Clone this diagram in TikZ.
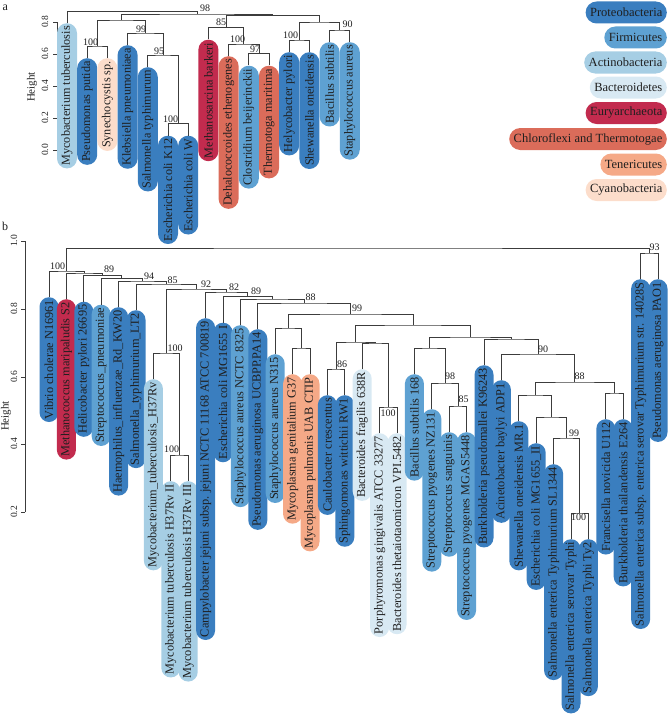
\documentclass[tikz,border=0pt]{standalone}
\usepackage{fontspec}
\setmainfont{Liberation Serif}
\definecolor{proteo}{HTML}{3A7EBF}
\definecolor{firmi}{HTML}{5EA1D2}
\definecolor{actino}{HTML}{A6CEE4}
\definecolor{bactero}{HTML}{D8E9F3}
\definecolor{eury}{HTML}{C22B4E}
\definecolor{chloro}{HTML}{DB6C5A}
\definecolor{teneri}{HTML}{F5A987}
\definecolor{cyano}{HTML}{FCDDCB}
\definecolor{txt}{HTML}{1F1F1F}
\definecolor{ln}{HTML}{3C3C3C}
\newcommand\lfa[5]{\node[leafa, fill=#4] (#1) at (#2,#3) {#5};}
\newcommand\lfb[5]{\node[leafb, fill=#4] (#1) at (#2,#3) {#5};}
\newcommand\mrg[3]{\draw[tree] (#1) |- (#2) -| (#3);}
\begin{document}
\begin{tikzpicture}[x=1pt,y=-1pt,
  tree/.style={draw=ln, line width=0.7pt},
  leafa/.style={rounded corners=10pt, minimum height=20pt, inner xsep=3pt, inner ysep=0pt, rotate=90, anchor=east, font=\fontsize{12.2}{14}\selectfont, text=txt},
  leafb/.style={rounded corners=9.5pt, minimum height=19pt, inner xsep=3pt, inner ysep=0pt, rotate=90, anchor=east, font=\fontsize{12.3}{14}\selectfont, text=txt},
  legpill/.style={rounded corners=11pt, minimum height=22pt, inner xsep=4.5pt, inner ysep=0pt, anchor=east, font=\fontsize{12.5}{14}\selectfont, text=txt},
  bs/.style={font=\fontsize{10}{12}\selectfont, inner sep=0pt, text=txt},
  tk/.style={font=\fontsize{9.5}{11}\selectfont, rotate=90, inner sep=0pt, text=txt},
  ylab/.style={font=\fontsize{11}{13}\selectfont, rotate=90, inner sep=0pt, text=txt},
  panel/.style={font=\fontsize{12}{14}\selectfont, inner sep=0pt, text=txt}]
\useasboundingbox (0,0) rectangle (668,717);

% ---------------- panel a ----------------
\node[panel] (pa) at (5.3,8) {a};
\draw[tree] (57,150) -- (57,22);
\foreach \yy/\lab in {150/0.0,118/0.2,86/0.4,54/0.6,22/0.8}{
  \draw[tree] (57,\yy) -- (53,\yy);
  \node[tk] at (45,\yy) {\lab};
}
\node[ylab] (hta) at (32,87) {Height};

\lfa{a1}{67}{23}{actino}{Mycobacterium tuberculosis}
\lfa{a2}{87.2}{58}{proteo}{Pseudomonas putida}
\lfa{a3}{107.4}{58}{cyano}{Synechocystis sp.}
\lfa{a4}{127.6}{45}{proteo}{Klebsiella pneumoniaea}
\lfa{a5}{147.8}{67}{proteo}{Salmonella typhimurum}
\lfa{a6}{168}{135.5}{proteo}{Escherichia coli K12}
\lfa{a7}{188.2}{135.5}{proteo}{Escherichia coli W}
\lfa{a8}{208.4}{39.5}{eury}{Methanosarcina barkeri}
\lfa{a9}{228.6}{56}{chloro}{Dehalococcoides ethenogenes}
\lfa{a10}{248.8}{65.5}{firmi}{Clostridium beijerinckii}
\lfa{a11}{269}{65.5}{chloro}{Thermotoga maritima}
\lfa{a12}{289.2}{52}{proteo}{Helycobacter pylori}
\lfa{a13}{309.4}{52}{proteo}{Shewanella oneidensis}
\lfa{a14}{329.6}{42}{firmi}{Bacillus subtilis}
\lfa{a15}{349.8}{42}{firmi}{Staphylococcus aureus}

\coordinate (A67) at (178.1,123.5);
\coordinate (A5) at (163,55);
\coordinate (A4) at (145.3,33);
\coordinate (A23) at (97.3,46);
\coordinate (AL) at (121.3,20);
\coordinate (A1011) at (258.9,53.5);
\coordinate (A9) at (243.8,44);
\coordinate (A8) at (226.1,27.5);
\coordinate (A1213) at (299.3,40);
\coordinate (A1415) at (339.7,30);
\coordinate (AR) at (319.5,22);
\coordinate (AX) at (272.8,15.6);
\coordinate (AY) at (197,14);
\coordinate (AT) at (132,11.5);

\mrg{a6.east}{A67}{a7.east}
\mrg{a5.east}{A5}{A67}
\mrg{a4.east}{A4}{A5}
\mrg{a2.east}{A23}{a3.east}
\mrg{A23}{AL}{A4}
\mrg{a10.east}{A1011}{a11.east}
\mrg{a9.east}{A9}{A1011}
\mrg{a8.east}{A8}{A9}
\mrg{a12.east}{A1213}{a13.east}
\mrg{a14.east}{A1415}{a15.east}
\mrg{A1213}{AR}{A1415}
\mrg{A8}{AX}{AR}
\mrg{AL}{AY}{AX}
\mrg{a1.east}{AT}{AY}

\node[bs] at (205,8.5) {98};
\node[bs] at (90.5,42) {100};
\node[bs] at (141,29) {99};
\node[bs] at (159,51) {95};
\node[bs] at (170.5,119.5) {100};
\node[bs] at (221,22.5) {85};
\node[bs] at (237.5,39) {100};
\node[bs] at (255,49) {97};
\node[bs] at (290.5,35) {100};
\node[bs] at (347.5,24.5) {90};

% ---------------- legend ----------------
\node[legpill, fill=proteo] (g1) at (667,12.5) {Proteobacteria};
\node[legpill, fill=firmi] (g2) at (667,37.5) {Firmicutes};
\node[legpill, fill=actino] (g3) at (667,62.5) {Actinobacteria};
\node[legpill, fill=bactero] (g4) at (667,87.5) {Bacteroidetes};
\node[legpill, fill=eury] (g5) at (667,113) {Euryarchaeota};
\node[legpill, fill=chloro] (g6) at (667,139) {Chloroflexi and Thermotogae};
\node[legpill, fill=teneri] (g7) at (667,164.5) {Tenericutes};
\node[legpill, fill=cyano] (g8) at (667,190) {Cyanobacteria};

% ---------------- panel b ----------------
\node[panel] (pb) at (5,226) {b};
\draw[tree] (25,512) -- (25,241);
\foreach \yy/\lab in {512/0.2,444/0.4,377/0.6,309/0.8,241/1.0}{
  \draw[tree] (25,\yy) -- (21,\yy);
  \node[tk] at (14,\yy) {\lab};
}
\node[ylab] (htb) at (6,416) {Height};

\lfb{b1}{49}{297}{proteo}{Vibrio cholerae N16961}
\lfb{b2}{66.4}{299}{eury}{Methanococcus maripaludis S2}
\lfb{b3}{83.8}{301.5}{proteo}{Helicobacter pylori 26695}
\lfb{b4}{101.2}{304.5}{firmi}{Streptococcus\_pneumoniae}
\lfb{b5}{118.6}{307}{proteo}{Haemophilus\_influenzae\_Rd\_KW20}
\lfb{b6}{136}{310}{proteo}{Salmonella\_typhimurium\_LT2}
\lfb{b7}{153.4}{379}{actino}{Mycobacterium\_tuberculosis\_H37Rv}
\lfb{b8}{170.8}{481}{actino}{Mycobacterium tuberculosis H37Rv II}
\lfb{b9}{188.2}{481}{actino}{Mycobacterium tuberculosis H37Rv III}
\lfb{b10}{205.6}{318}{proteo}{Campylobacter jejuni subsp. jejuni NCTC 11168 ATCC 700819}
\lfb{b11}{223}{322.5}{proteo}{Escherichia coli MG1655 I}
\lfb{b12}{240.4}{325}{firmi}{Staphylococcus aureus NCTC 8325}
\lfb{b13}{257.8}{329}{proteo}{Pseudomonas aeruginosa UCBPP.PA14}
\lfb{b14}{275.2}{354}{firmi}{Staphylococcus aureus N315}
\lfb{b15}{292.6}{374}{teneri}{Mycoplasma genitalium G37}
\lfb{b16}{310}{374}{teneri}{Mycoplasma pulmonis UAB CTIP}
\lfb{b17}{327.4}{395}{proteo}{Caulobacter crescentus}
\lfb{b18}{344.8}{395}{proteo}{Sphingomonas wittichii RW1}
\lfb{b19}{362.2}{369}{bactero}{Bacteroides fragilis 638R}
\lfb{b20}{379.6}{433}{bactero}{Porphyromonas gingivalis ATCC 33277}
\lfb{b21}{397}{433}{bactero}{Bacteroides thetaiotaomicron VPI.5482}
\lfb{b22}{414.4}{374}{firmi}{Bacillus subtilis 168}
\lfb{b23}{431.8}{409}{firmi}{Streptococcus pyogenes NZ131}
\lfb{b24}{449.2}{432}{firmi}{Streptococcus sanguinis}
\lfb{b25}{466.6}{432}{firmi}{Streptococcus pyogenes MGAS5448}
\lfb{b26}{484}{365}{proteo}{Burkholderia pseudomallei K96243}
\lfb{b27}{501.4}{380}{proteo}{Acinetobacter baylyi ADP1}
\lfb{b28}{518.8}{421}{proteo}{Shewanella oneidensis MR.1}
\lfb{b29}{536.2}{443}{proteo}{Escherichia coli MG1655\_II}
\lfb{b30}{553.6}{464}{proteo}{Salmonella enterica Typhimurium SL1344}
\lfb{b31}{571}{539}{proteo}{Salmonella enterica serovar Typhi}
\lfb{b32}{588.4}{539}{proteo}{Salmonella enterica Typhi Ty2}
\lfb{b33}{605.8}{419}{proteo}{Francisella novicida U112}
\lfb{b34}{623.2}{419}{proteo}{Burkholderia thailandensis E264}
\lfb{b35}{640.6}{279}{proteo}{Salmonella enterica subsp. enterica serovar Typhimurium str. 14028S}
\lfb{b36}{658}{279}{proteo}{Pseudomonas aeruginosa PAO1}

\coordinate (BL) at (66.8,271);
\coordinate (BA) at (84.6,273);
\coordinate (BB3) at (102.8,275.5);
\coordinate (BB4) at (121.8,278.5);
\coordinate (BC) at (142.4,281);
\coordinate (BD) at (166.3,284);
\coordinate (BE) at (196.6,289);
\coordinate (BF) at (226.6,292);
\coordinate (BG) at (247.6,296.5);
\coordinate (BH) at (272.3,299);
\coordinate (BI) at (304.2,303);
\coordinate (BJ) at (350.6,314);
\coordinate (B14) at (288.3,328);
\coordinate (B1516) at (301.3,348);
\coordinate (BQ) at (413,325);
\coordinate (BB) at (355.7,342);
\coordinate (B1718) at (336.1,369);
\coordinate (B19) at (375.3,343);
\coordinate (B2021) at (388.3,407);
\coordinate (BRR) at (470.3,337);
\coordinate (B22) at (429.6,348);
\coordinate (B23) at (444.9,383);
\coordinate (B2425) at (457.9,406);
\coordinate (B26) at (511,339);
\coordinate (B27) at (538.1,354);
\coordinate (BX) at (574.8,382);
\coordinate (BW) at (535.1,395);
\coordinate (BY) at (551.4,417);
\coordinate (BZ) at (566.7,438);
\coordinate (B3132) at (579.7,513);
\coordinate (B3334) at (614.5,393);
\coordinate (B7) at (166.5,353);
\coordinate (B89) at (179.5,455);
\coordinate (B3536) at (649.3,253);
\coordinate (BT) at (358,248);

\mrg{b8.east}{B89}{b9.east}
\mrg{b7.east}{B7}{B89}
\mrg{b15.east}{B1516}{b16.east}
\mrg{b14.east}{B14}{B1516}
\mrg{b17.east}{B1718}{b18.east}
\mrg{b20.east}{B2021}{b21.east}
\mrg{b19.east}{B19}{B2021}
\mrg{B1718}{BB}{B19}
\mrg{b24.east}{B2425}{b25.east}
\mrg{b23.east}{B23}{B2425}
\mrg{b22.east}{B22}{B23}
\mrg{b31.east}{B3132}{b32.east}
\mrg{b30.east}{BZ}{B3132}
\mrg{b29.east}{BY}{BZ}
\mrg{b28.east}{BW}{BY}
\mrg{b33.east}{B3334}{b34.east}
\mrg{BW}{BX}{B3334}
\mrg{b27.east}{B27}{BX}
\mrg{b26.east}{B26}{B27}
\mrg{B22}{BRR}{B26}
\mrg{BB}{BQ}{BRR}
\mrg{B14}{BJ}{BQ}
\mrg{b13.east}{BI}{BJ}
\mrg{b12.east}{BH}{BI}
\mrg{b11.east}{BG}{BH}
\mrg{b10.east}{BF}{BG}
\mrg{B7}{BE}{BF}
\mrg{b6.east}{BD}{BE}
\mrg{b5.east}{BC}{BD}
\mrg{b4.east}{BB4}{BC}
\mrg{b3.east}{BB3}{BB4}
\mrg{b2.east}{BA}{BB3}
\mrg{b1.east}{BL}{BA}
\mrg{b35.east}{B3536}{b36.east}
\mrg{BL}{BT}{B3536}

\node[bs] at (57.5,266) {100};
\node[bs] at (109,269.5) {89};
\node[bs] at (149,276) {94};
\node[bs] at (172.5,280) {85};
\node[bs] at (206,284) {92};
\node[bs] at (234,287.5) {82};
\node[bs] at (256,291) {89};
\node[bs] at (310.5,297) {88};
\node[bs] at (357,308.5) {99};
\node[bs] at (175,348) {100};
\node[bs] at (171.5,449.5) {100};
\node[bs] at (342,364) {86};
\node[bs] at (388,413.5) {100};
\node[bs] at (450,376) {98};
\node[bs] at (463.5,399) {85};
\node[bs] at (543,349) {90};
\node[bs] at (579.5,376) {88};
\node[bs] at (574,433) {99};
\node[bs] at (578.5,517) {100};
\node[bs] at (654.5,247) {93};
\end{tikzpicture}
\end{document}
